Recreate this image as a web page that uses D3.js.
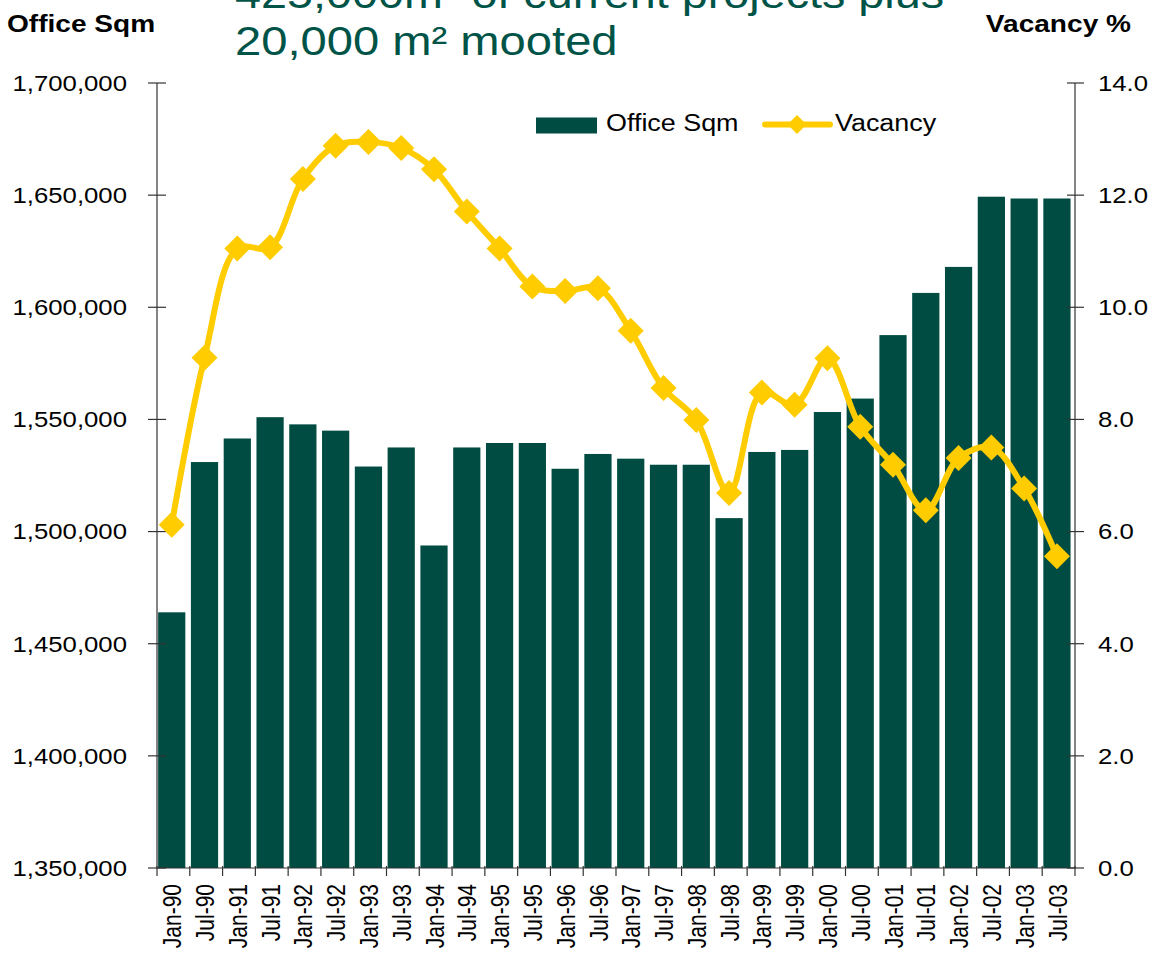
<!DOCTYPE html>
<html>
<head>
<meta charset="utf-8">
<script src="https://cdn.jsdelivr.net/npm/d3@7/dist/d3.min.js"></script>
<style>
  html, body { margin: 0; padding: 0; background: #ffffff; }
  svg { display: block; }
  text { font-family: Arial, "Liberation Sans", sans-serif; fill: #000; }
</style>
</head>
<body>
<svg id="chart" width="1151" height="956"></svg>
<script>
// ---------- data ----------
const categories = ["Jan-90","Jul-90","Jan-91","Jul-91","Jan-92","Jul-92","Jan-93","Jul-93",
  "Jan-94","Jul-94","Jan-95","Jul-95","Jan-96","Jul-96","Jan-97","Jul-97","Jan-98","Jul-98",
  "Jan-99","Jul-99","Jan-00","Jul-00","Jan-01","Jul-01","Jan-02","Jul-02","Jan-03","Jul-03"];
const officeSqm = [1464000, 1531000, 1541500, 1551000, 1547800, 1545000, 1529000, 1537500,
  1493800, 1537500, 1539500, 1539500, 1528000, 1534600, 1532500, 1529800, 1529800, 1506000,
  1535500, 1536400, 1553300, 1559300, 1587600, 1606400, 1618000, 1649300, 1648500, 1648500];
const vacancy = [6.12, 9.10, 11.05, 11.07, 12.29, 12.88, 12.95, 12.84, 12.46, 11.71, 11.05, 10.37,
  10.29, 10.34, 9.58, 8.56, 7.99, 6.69, 8.48, 8.26, 9.09, 7.87, 7.19, 6.38, 7.31, 7.50, 6.77, 5.56];
const leftTicks = [1350000, 1400000, 1450000, 1500000, 1550000, 1600000, 1650000, 1700000];
const rightTicks = [0, 2, 4, 6, 8, 10, 12, 14];
const titleLines = ["425,000m\u00B2 of current projects plus", "20,000 m\u00B2 mooted"];
const leftTitle = "Office Sqm";
const rightTitle = "Vacancy %";
const seriesNames = ["Office Sqm", "Vacancy"];

// ---------- layout ----------
const X0 = 157, X1 = 1075, Y0 = 868, Y1 = 83;
const K = 1.17; // horizontal text stretch
const barColor = "#004c42", lineColor = "#ffcc00", titleColor = "#005447", axisColor = "#333";

const svg = d3.select("#chart");

const x = d3.scaleBand().domain(categories).range([X0, X1])
  .paddingInner(0.17).paddingOuter(0.085).align(0.2);
const xEdge = d3.scaleLinear().domain([0, categories.length]).range([X0, X1]);
const yL = d3.scaleLinear().domain([1350000, 1700000]).range([Y0, Y1]);
const yR = d3.scaleLinear().domain([0, 14]).range([Y0, Y1]);

function stext(g, str, tx, ty, opts) {
  const t = g.append("text")
    .attr("transform", `translate(${tx},${ty}) scale(${opts.k || K},1)` + (opts.rotate ? ` rotate(${opts.rotate})` : ""))
    .attr("text-anchor", opts.anchor || "start")
    .style("font-size", opts.size + "px")
    .style("font-weight", opts.weight || "normal")
    .text(str);
  if (opts.fill) t.style("fill", opts.fill);
  if (opts.dy) t.attr("dy", opts.dy);
  return t;
}

// ---------- bars ----------
svg.append("g").selectAll("rect").data(categories).join("rect")
  .attr("x", d => x(d))
  .attr("width", x.bandwidth())
  .attr("y", (d, i) => yL(officeSqm[i]))
  .attr("height", (d, i) => Y0 - yL(officeSqm[i]))
  .attr("fill", barColor);

// ---------- axes ----------
const ax = svg.append("g").attr("stroke", axisColor).attr("stroke-width", 1.2).attr("fill", "none");
ax.append("line").attr("x1", X0).attr("x2", X0).attr("y1", Y1).attr("y2", Y0);
ax.append("line").attr("x1", X1).attr("x2", X1).attr("y1", Y1).attr("y2", Y0);
ax.append("line").attr("x1", X0).attr("x2", X1).attr("y1", Y0).attr("y2", Y0);
ax.selectAll(".lt").data(leftTicks).join("line")
  .attr("x1", X0 - 9).attr("x2", X0 + 9).attr("y1", d => yL(d)).attr("y2", d => yL(d));
ax.selectAll(".rt").data(rightTicks).join("line")
  .attr("x1", X1 - 8).attr("x2", X1 + 9).attr("y1", d => yR(d)).attr("y2", d => yR(d));
ax.selectAll(".bt").data(d3.range(categories.length + 1)).join("line")
  .attr("x1", d => xEdge(d)).attr("x2", d => xEdge(d)).attr("y1", Y0 - 2).attr("y2", Y0 + 8);

const lab = svg.append("g");
const fmtL = d3.format(",");
const fmtR = d3.format(".1f");
leftTicks.forEach(v => stext(lab, fmtL(v), 127, yL(v), {anchor: "end", size: 22, dy: "0.36em"}));
rightTicks.forEach(v => stext(lab, fmtR(v), 1098, yR(v), {anchor: "start", size: 22, dy: "0.36em"}));
categories.forEach(c => stext(lab, c, x(c) + x.bandwidth() / 2 + 0.5, 884,
  {anchor: "end", size: 21, rotate: -90, dy: "0.36em", k: 1.2}));

// ---------- vacancy line ----------
const pts = categories.map((c, i) => [x(c) + x.bandwidth() / 2, yR(vacancy[i])]);
svg.append("path")
  .attr("d", d3.line().curve(d3.curveCatmullRom.alpha(0.5))(pts))
  .attr("fill", "none").attr("stroke", lineColor).attr("stroke-width", 6)
  .attr("stroke-linejoin", "round").attr("stroke-linecap", "round");
const diamond = (cx, cy, r) => `M${cx},${cy - r}L${cx + r},${cy}L${cx},${cy + r}L${cx - r},${cy}Z`;
svg.append("g").selectAll("path").data(pts).join("path")
  .attr("d", d => diamond(d[0], d[1], 13))
  .attr("fill", lineColor);

// ---------- titles ----------
stext(svg, titleLines[0], 235, 8, {size: 41, fill: titleColor, k: 1.14});
stext(svg, titleLines[1], 235, 55, {size: 41, fill: titleColor, k: 1.15});
stext(svg, leftTitle, 7, 32, {size: 24, weight: "bold"});
stext(svg, rightTitle, 1131, 32, {size: 24, weight: "bold", anchor: "end"});

// ---------- legend ----------
const lg = svg.append("g");
lg.append("rect").attr("x", 536).attr("y", 117.5).attr("width", 61).attr("height", 16).attr("fill", barColor);
stext(lg, seriesNames[0], 606, 131, {size: 23});
lg.append("line").attr("x1", 765).attr("x2", 830).attr("y1", 124.5).attr("y2", 124.5)
  .attr("stroke", lineColor).attr("stroke-width", 6).attr("stroke-linecap", "round");
lg.append("path").attr("d", diamond(797, 124.5, 9.5)).attr("fill", lineColor);
stext(lg, seriesNames[1], 835, 131, {size: 23});
</script>
</body>
</html>
